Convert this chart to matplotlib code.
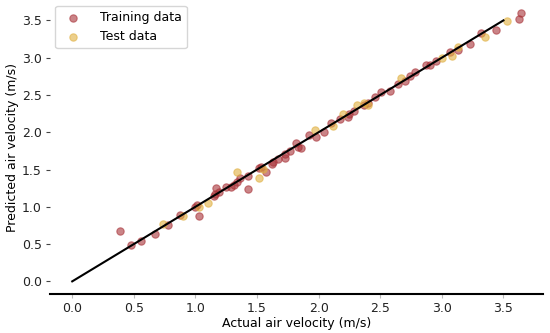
import matplotlib
matplotlib.use("Agg")
import matplotlib.pyplot as plt

# Training data (actual, predicted)
train_actual = [0.39, 0.475, 0.557, 0.67, 0.775, 0.875, 1.01, 1.03, 1.00,
                1.15, 1.16, 1.17, 1.19, 1.25, 1.29, 1.31, 1.34, 1.36, 1.43, 1.43,
                1.52, 1.53, 1.57, 1.62, 1.63, 1.67, 1.73, 1.73, 1.77, 1.82, 1.83,
                1.86, 1.92, 1.98, 2.04, 2.10, 2.17, 2.24, 2.25, 2.29, 2.37, 2.40,
                2.46, 2.51, 2.58, 2.645, 2.70, 2.74, 2.78, 2.87, 2.90, 2.955,
                3.07, 3.13, 3.23, 3.32, 3.44, 3.63, 3.64]
train_pred = [0.68, 0.49, 0.54, 0.63, 0.75, 0.885, 1.02, 0.87, 1.00,
              1.14, 1.17, 1.25, 1.20, 1.26, 1.26, 1.29, 1.33, 1.38, 1.24, 1.41,
              1.52, 1.53, 1.46, 1.58, 1.60, 1.64, 1.71, 1.65, 1.75, 1.85, 1.80,
              1.79, 1.96, 1.93, 2.00, 2.12, 2.18, 2.21, 2.25, 2.28, 2.36, 2.39,
              2.47, 2.54, 2.55, 2.65, 2.69, 2.76, 2.81, 2.90, 2.90, 2.95,
              3.07, 3.10, 3.19, 3.33, 3.37, 3.52, 3.60]

# Test data (actual, predicted)
test_actual = [0.74, 0.90, 1.03, 1.10, 1.34, 1.52, 1.55, 1.97, 2.12, 2.20,
               2.31, 2.37, 2.40, 2.67, 3.00, 3.08, 3.13, 3.35, 3.53]
test_pred = [0.77, 0.88, 1.00, 1.05, 1.47, 1.39, 1.51, 2.03, 2.08, 2.25,
             2.36, 2.39, 2.36, 2.73, 2.99, 3.02, 3.14, 3.28, 3.49]

line_x = [0.0, 3.5]

fig = plt.figure(figsize=(5.5, 3.33), dpi=100)
ax = fig.add_axes([0.091, 0.117, 0.896, 0.88])

ax.scatter(train_actual, train_pred, s=28, color="#a83238", alpha=0.6,
           linewidths=0.8, edgecolors="#a83238", label="Training data", zorder=2)
ax.scatter(test_actual, test_pred, s=28, color="#e0b040", alpha=0.6,
           linewidths=0.8, edgecolors="#e0b040", label="Test data", zorder=2)
ax.plot(line_x, line_x, color="black", lw=1.5, zorder=3)

ax.set_xlim(-0.18, 3.82)
ax.set_ylim(-0.17, 3.76)
ax.set_xticks([0.0, 0.5, 1.0, 1.5, 2.0, 2.5, 3.0, 3.5])
ax.set_yticks([0.0, 0.5, 1.0, 1.5, 2.0, 2.5, 3.0, 3.5])

for side in ["top", "right", "left"]:
    ax.spines[side].set_visible(False)
ax.spines["bottom"].set_linewidth(1.5)

ax.tick_params(axis="both", labelsize=9, colors="#222222", length=3,
               width=0.8, pad=3)
ax.tick_params(axis="x", color="#bbbbbb")
ax.tick_params(axis="y", color="#444444")

ax.set_xlabel("Actual air velocity (m/s)", fontsize=9, labelpad=1)
ax.set_ylabel("Predicted air velocity (m/s)", fontsize=9, labelpad=2)

ax.legend(loc="upper left", fontsize=9, frameon=True, borderaxespad=0.4,
          handletextpad=1.2, markerscale=1.0)

fig.savefig("out.png", dpi=100)
